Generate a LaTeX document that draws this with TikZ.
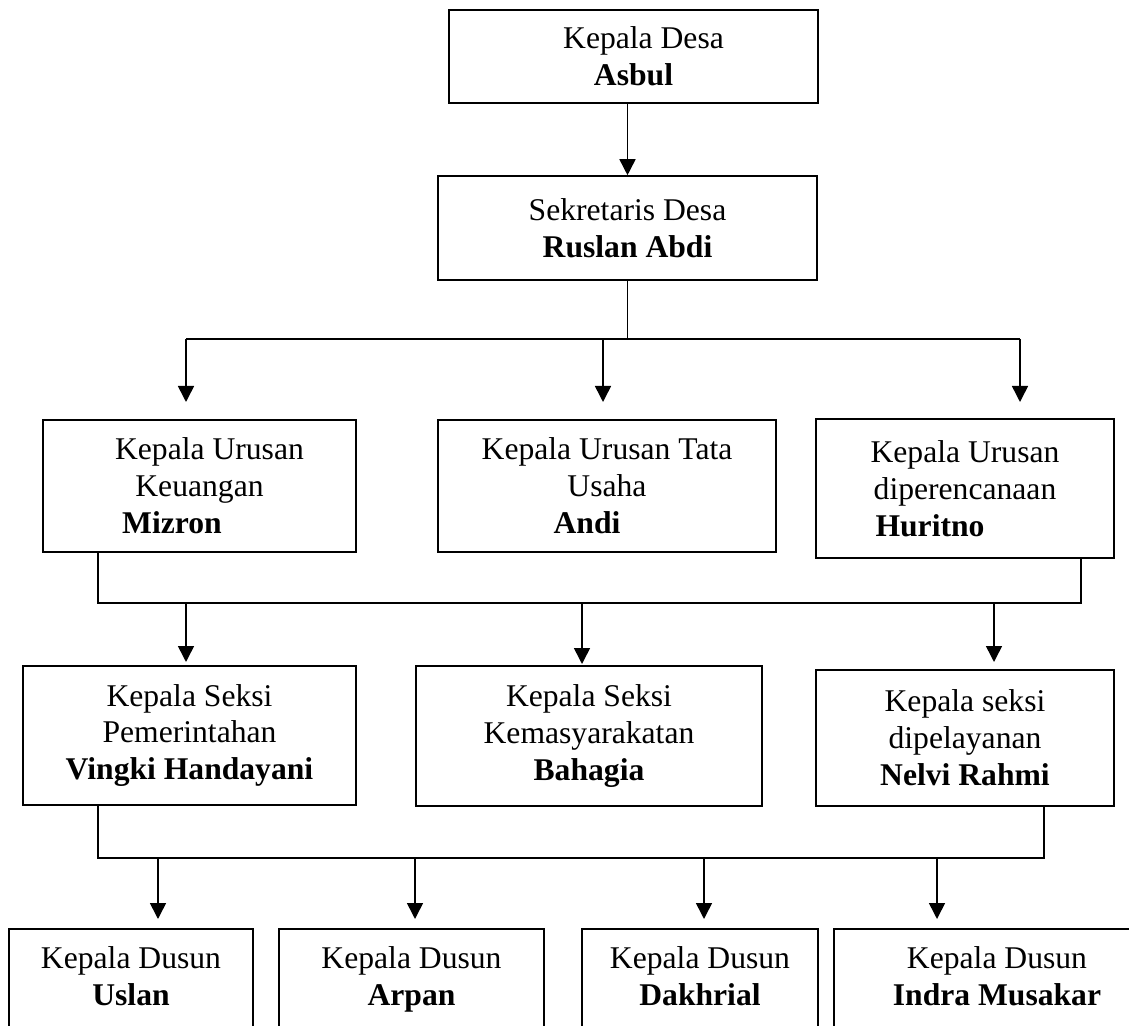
\documentclass[tikz,border=0pt]{standalone}
\usepackage{fontspec}
\setmainfont{Liberation Serif}
\usetikzlibrary{positioning,arrows.meta}
\tikzset{
  flowarrow/.style={-{Triangle[length=3.2mm,width=3.2mm]}, line width=0.9pt},
  joinline/.style={line width=0.9pt},
  thinline/.style={line width=0.6pt},
  unitbox/.style={draw, line width=0.9pt, align=center, inner sep=2pt},
  kaurbox/.style={unitbox, minimum height=2.64cm},
  kasibox/.style={unitbox, minimum height=2.78cm},
  kadusbox/.style={unitbox, minimum height=2.0cm}
}

\begin{document}
\begin{tikzpicture}[x=0.02cm, y=-0.02cm, every node/.style={font=\fontsize{18}{21}\selectfont}]
  \useasboundingbox (0,0) rectangle (1129,1026);
  \clip (0,0) rectangle (1129,1026);

  % pimpinan
  \node[unitbox, minimum width=7.38cm, minimum height=1.86cm] (kades) at (633.5,56.5) {\hspace*{0.4cm}Kepala Desa\\\textbf{Asbul}};
  \node[unitbox, minimum width=7.58cm, minimum height=2.08cm] (sekdes) at (627.5,228) {Sekretaris Desa\\\textbf{Ruslan Abdi}};

  % kepala urusan
  \node[kaurbox, minimum width=6.26cm] (kaur1) at (199.5,486) {\hspace*{0.4cm}Kepala Urusan\\Keuangan\\\textbf{Mizron}\hspace*{1.1cm}};
  \node[kaurbox, minimum width=6.76cm] (kaur2) at (607,486) {Kepala Urusan Tata\\Usaha\\\textbf{Andi}\hspace*{0.8cm}};
  \node[kaurbox, minimum width=5.96cm, minimum height=2.78cm] (kaur3) at (965,488.5) {Kepala Urusan\\diperencanaan\\\textbf{Huritno}\hspace*{1.4cm}};

  % kepala seksi
  \node[kasibox, minimum width=6.66cm] (kasi1) at (189.5,735.5) {Kepala Seksi\\Pemerintahan\\\textbf{Vingki Handayani}};
  \node[kasibox, minimum width=6.92cm, minimum height=2.8cm] (kasi2) at (589,736) {Kepala Seksi\\Kemasyarakatan\\\textbf{Bahagia}};
  \node[kasibox, minimum width=5.96cm, minimum height=2.72cm] (kasi3) at (965,738) {Kepala seksi\\dipelayanan\\\textbf{Nelvi Rahmi}};

  % kepala dusun
  \node[kadusbox, minimum width=4.88cm] (kadus1) at (131,979) {Kepala Dusun\\\textbf{Uslan}\vphantom{p}};
  \node[kadusbox, minimum width=5.30cm] (kadus2) at (411.5,979) {Kepala Dusun\\\textbf{Arpan}};
  \node[kadusbox, minimum width=4.72cm] (kadus3) at (700,979) {Kepala Dusun\\\textbf{Dakhrial}\vphantom{p}};
  \node[kadusbox, minimum width=6.52cm] (kadus4) at (997,979) {Kepala Dusun\\\textbf{Indra Musakar}\vphantom{p}};

  % titik bantu garis
  \coordinate (busA) at (186,339);
  \coordinate (busA2) at (1020,339);
  \coordinate (ta1) at (186,402);
  \coordinate (ta2) at (603,402);
  \coordinate (ta3) at (1020,402);
  \coordinate (busB) at (98,603);
  \coordinate (busB2) at (1081,603);
  \coordinate (tb1) at (186,662);
  \coordinate (tb2) at (582,664);
  \coordinate (tb3) at (994,662);
  \coordinate (busC) at (98,858);
  \coordinate (busC2) at (1044,858);
  \coordinate (tc1) at (158,919);
  \coordinate (tc2) at (415,919);
  \coordinate (tc3) at (704,919);
  \coordinate (tc4) at (937,919);

  \draw[flowarrow] (kades.south -| sekdes.north) -- (sekdes.north);

  \draw[thinline] (sekdes.south) -- (sekdes.south |- busA);
  \draw[joinline] (busA) -- (busA2);
  \foreach \t in {ta1,ta2,ta3}
    \draw[flowarrow] (\t |- busA) -- (\t);

  \draw[joinline] (kaur1.south -| busB) -- (busB) -- (busB2) -- (kaur3.south -| busB2);
  \foreach \t in {tb1,tb2,tb3}
    \draw[flowarrow] (\t |- busB) -- (\t);

  \draw[joinline] (kasi1.south -| busC) -- (busC) -- (busC2) -- (kasi3.south -| busC2);
  \foreach \t in {tc1,tc2,tc3,tc4}
    \draw[flowarrow] (\t |- busC) -- (\t);
\end{tikzpicture}
\end{document}
